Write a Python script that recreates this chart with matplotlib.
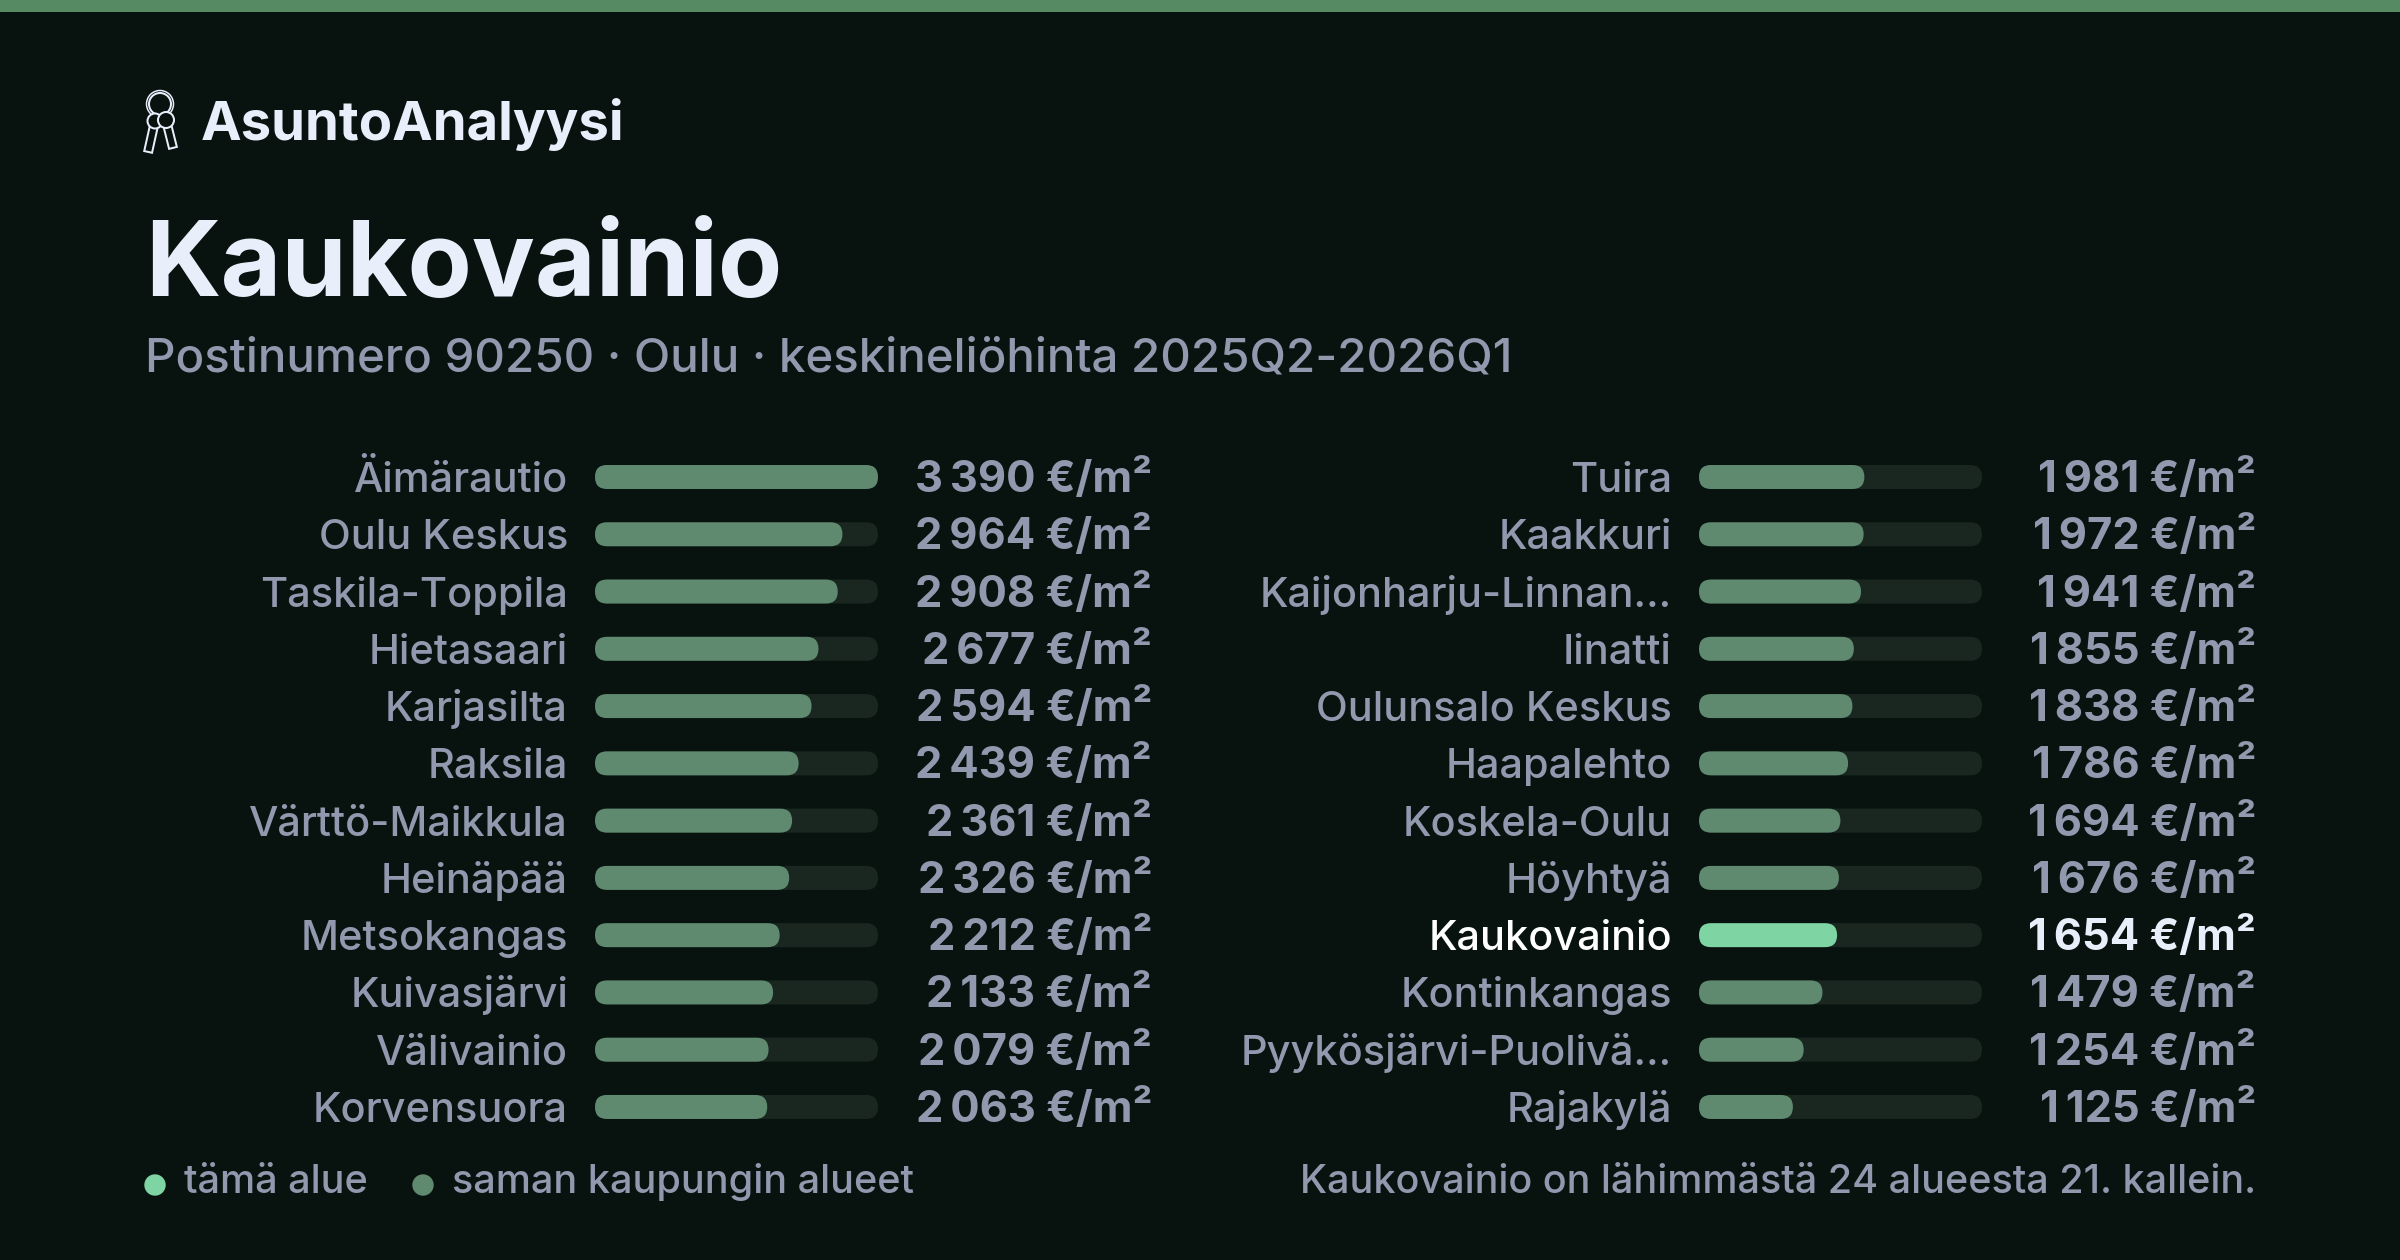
import matplotlib
matplotlib.use('Agg')
import matplotlib.pyplot as plt
from matplotlib.patches import FancyBboxPatch, Circle

plt.rcParams['font.family'] = ['Inter', 'DejaVu Sans']

# Data
namesLeft = ['Äimärautio', 'Oulu Keskus', 'Taskila-Toppila', 'Hietasaari', 'Karjasilta', 'Raksila',
             'Värttö-Maikkula', 'Heinäpää', 'Metsokangas', 'Kuivasjärvi', 'Välivainio', 'Korvensuora']
valuesLeft = [3390, 2964, 2908, 2677, 2594, 2439, 2361, 2326, 2212, 2133, 2079, 2063]
namesRight = ['Tuira', 'Kaakkuri', 'Kaijonharju-Linnan…', 'Iinatti', 'Oulunsalo Keskus', 'Haapalehto',
              'Koskela-Oulu', 'Höyhtyä', 'Kaukovainio', 'Kontinkangas', 'Pyykösjärvi-Puolivä…', 'Rajakylä']
valuesRight = [1981, 1972, 1941, 1855, 1838, 1786, 1694, 1676, 1654, 1479, 1254, 1125]
highlight = 'Kaukovainio'
maxValue = 3390

bgColor = '#08130F'
stripColor = '#568A62'
trackColor = '#1A2721'
barColor = '#5F8A70'
hiColor = '#7ED4A2'
textColor = '#9199AF'
whiteColor = '#E9EEFB'

W, H = 2400, 1260
barW = 283
rowPitch = 57.27
firstRow = 477


def pt(px):
    return px * 0.72


fig = plt.figure(figsize=(W / 100, H / 100), dpi=100, facecolor=bgColor)

# Overlay in pixel coordinates for header, legend and footer
bg = fig.add_axes([0, 0, 1, 1])
bg.set_xlim(0, W)
bg.set_ylim(H, 0)
bg.axis('off')
bg.axhspan(0, 12, color=stripColor, lw=0)


def drawKey(x0, y0, x1, y1, headR):
    # outlined key, white line with dark core
    for lw, col in [(10, whiteColor), (6, bgColor)]:
        bg.plot([x0, x1], [y0, y1], color=col, lw=pt(lw), solid_capstyle='projecting', zorder=3)
    bg.add_patch(Circle((x0, y0), headR, fc=bgColor, ec=whiteColor, lw=pt(2), zorder=4))


bg.add_patch(Circle((160, 104), 11, fc='none', ec=whiteColor, lw=pt(2), zorder=2))
bg.add_patch(Circle((160, 104), 13.5, fc='none', ec=whiteColor, lw=pt(1.5), zorder=2))
drawKey(155, 121, 149, 148, 7.5)
drawKey(166, 120, 172, 144, 8)

bg.text(201, 140, 'AsuntoAnalyysi', color=whiteColor, fontsize=pt(54.5), fontweight='bold', va='baseline')
bg.text(145, 296, 'Kaukovainio', color=whiteColor, fontsize=pt(105), fontweight='bold', va='baseline')
bg.text(145, 372, 'Postinumero 90250 · Oulu · keskineliöhinta 2025Q2-2026Q1', color=textColor,
        fontsize=pt(47.5), va='baseline', fontweight='medium')

# Legend and footer
bg.add_patch(Circle((155, 1185), 10.7, fc=hiColor, ec='none'))
bg.text(184, 1193, 'tämä alue', color=textColor, fontsize=pt(39.6), va='baseline', fontweight='medium')
bg.add_patch(Circle((423, 1185), 10.7, fc=barColor, ec='none'))
bg.text(452, 1193, 'saman kaupungin alueet', color=textColor, fontsize=pt(39.6), va='baseline',
        fontweight='medium')
bg.text(2256, 1193, 'Kaukovainio on lähimmästä 24 alueesta 21. kallein.', color=textColor,
        fontsize=pt(39.5), va='baseline', ha='right', fontweight='medium')


def drawColumn(x0, names, values):
    top = firstRow - rowPitch / 2
    height = rowPitch * len(names)
    ax = fig.add_axes([x0 / W, 1 - (top + height) / H, barW / W, height / H])
    ax.set_xlim(0, maxValue)
    ax.set_ylim(len(names) - 0.5, -0.5)
    ax.axis('off')
    ax.patch.set_alpha(0)
    rx = 12 * maxValue / barW
    ry = 12 / rowPitch
    for i, (name, value) in enumerate(zip(names, values)):
        isHi = name == highlight
        for width, col in [(maxValue, trackColor), (value, hiColor if isHi else barColor)]:
            ax.add_patch(FancyBboxPatch((rx, i), width - 2 * rx, 0, clip_on=False, fc=col, ec='none',
                                        boxstyle='round,pad=%f,rounding_size=%f' % (rx, rx),
                                        mutation_aspect=ry / rx))
        labelCol = '#FFFFFF' if isHi else textColor
        ax.annotate(name, xy=(0, i), xytext=(-27, -15), textcoords='offset pixels', ha='right',
                    va='baseline', color=labelCol, fontsize=pt(41.5), fontweight='medium',
                    annotation_clip=False)
        valueText = f'{value:,}'.replace(',', '\u2009') + ' €/m²'
        ax.annotate(valueText, xy=(maxValue, i), xytext=(274, -15), textcoords='offset pixels', ha='right',
                    va='baseline', color=whiteColor if isHi else textColor, fontsize=pt(43.5),
                    fontweight='bold', annotation_clip=False)


drawColumn(595, namesLeft, valuesLeft)
drawColumn(1699, namesRight, valuesRight)

fig.savefig('out.png', dpi=100, facecolor=bgColor)
